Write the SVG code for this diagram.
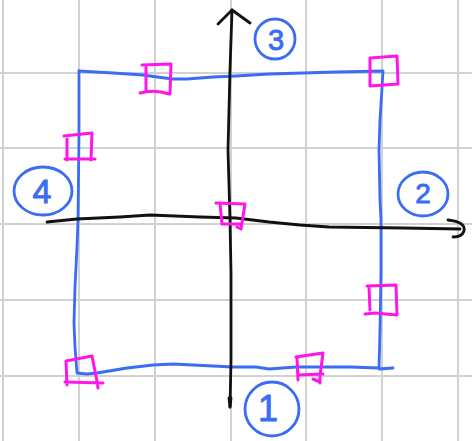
<svg xmlns="http://www.w3.org/2000/svg" width="472" height="441" viewBox="0 0 472 441">
<style>
.grid line{stroke:#d2d2d2;stroke-width:2}
.blue{fill:none;stroke:#3a6cf4;stroke-width:2.8;stroke-linecap:round;stroke-linejoin:round}
.ax{fill:none;stroke:#111;stroke-width:2.8;stroke-linecap:round;stroke-linejoin:round}
.mg{fill:none;stroke:#ff14ea;stroke-width:3;stroke-linecap:round;stroke-linejoin:round}
.lbl ellipse{fill:none;stroke:#3a6cf4;stroke-width:2.8}
.lbl text{fill:#3a6cf4;stroke:#3a6cf4;stroke-width:0.9;font-family:"Liberation Sans",Arial,sans-serif;text-anchor:middle}
</style>
<rect width="472" height="441" fill="#fff"/>
<g class="grid" id="grid">
<line x1="3" y1="0" x2="3" y2="441"/>
<line x1="79" y1="0" x2="79" y2="441"/>
<line x1="155" y1="0" x2="155" y2="441"/>
<line x1="231" y1="0" x2="231" y2="441"/>
<line x1="306" y1="0" x2="306" y2="441"/>
<line x1="382" y1="0" x2="382" y2="441"/>
<line x1="458" y1="0" x2="458" y2="441"/>
<line x1="0" y1="73" x2="472" y2="73"/>
<line x1="0" y1="148" x2="472" y2="148"/>
<line x1="0" y1="224" x2="472" y2="224"/>
<line x1="0" y1="300" x2="472" y2="300"/>
<line x1="0" y1="376" x2="472" y2="376"/>
</g>
<g id="rectangle">
<path class="blue" d="M79,71 L113,73 L143,75 L157,77 L173,79 L187,79 L213,77 L236,76 L269,74 L303,73 L336,72 L383,71 L382,88 L380,120 L379,150 L380,200 L381,220 L381,270 L380,330 L379,369 L393,368"/>
<path class="blue" d="M379,368 L350,367 L329,367 L296,367 L269,369 L256,367 L233,367 L213,366 L173,364 L153,365 L127,368 L97,373 L87,374 L77,373 L75,347 L74,323 L75,287 L77,247 L78,220 L79,133 L79,71"/>
</g>
<g id="connectors">
<g id="axis-vertical">
<path class="ax" d="M230,407 L231,360 L231,320 L231,273 L230,220 L228,150 L230,70 L232,10"/>
<path class="ax" d="M218,24 L232,10 L250,23"/>
<path class="ax" d="M229,398 L230,407 L231,398"/>
</g>
<g id="axis-horizontal">
<path class="ax" d="M47,222 L77,219 L120,217 L150,215 L200,217 L236,218 L269,222 L300,225 L329,227 L403,228 L460,229"/>
<path class="ax" d="M448,220 Q466,222 464,231 Q462,237 453,237"/>
</g>
</g>
<g id="square-top">
<path class="mg" d="M142,65 L171,64 L170,94 M146,65 L146,90 M140,93 Q155,89 169,94"/>
</g>
<g id="square-top-right">
<path class="mg" d="M370,58 L397,56 L398,84 L370,86 Z"/>
</g>
<g id="square-left">
<path class="mg" d="M64,136 L92,133 L91,160 M67,139 L67,160 M65,159 L95,159"/>
</g>
<g id="square-center">
<path class="mg" d="M216,203 L245,204 L241,229 L237,227 M220,203 L222,224 L242,224"/>
</g>
<g id="square-right">
<path class="mg" d="M367,286 L396,285 L397,315 L375,313 L365,314 M369,287 L370,310"/>
</g>
<g id="square-bottom-left">
<path class="mg" d="M66,361 L92,356 L97,381 L98,388 M66,361 L67,385 M65,382 L103,383"/>
</g>
<g id="square-bottom">
<path class="mg" d="M296,357 L323,353 L320,376 L320,383 M297,358 L298,380 M298,375 L323,374 M313,379 L320,382"/>
</g>
<g id="label-1" class="lbl">
<ellipse cx="272" cy="409" rx="27" ry="27"/>
<text x="268" y="421" font-size="36">1</text>
</g>
<g id="label-2" class="lbl">
<ellipse cx="423" cy="194" rx="25" ry="22"/>
<text x="423" y="203" font-size="28">2</text>
</g>
<g id="label-3" class="lbl">
<ellipse cx="275" cy="39" rx="20" ry="20"/>
<text x="276" y="50" font-size="29">3</text>
</g>
<g id="label-4" class="lbl">
<ellipse cx="43" cy="191" rx="29" ry="24"/>
<text x="42" y="203" font-size="34">4</text>
</g>
</svg>
